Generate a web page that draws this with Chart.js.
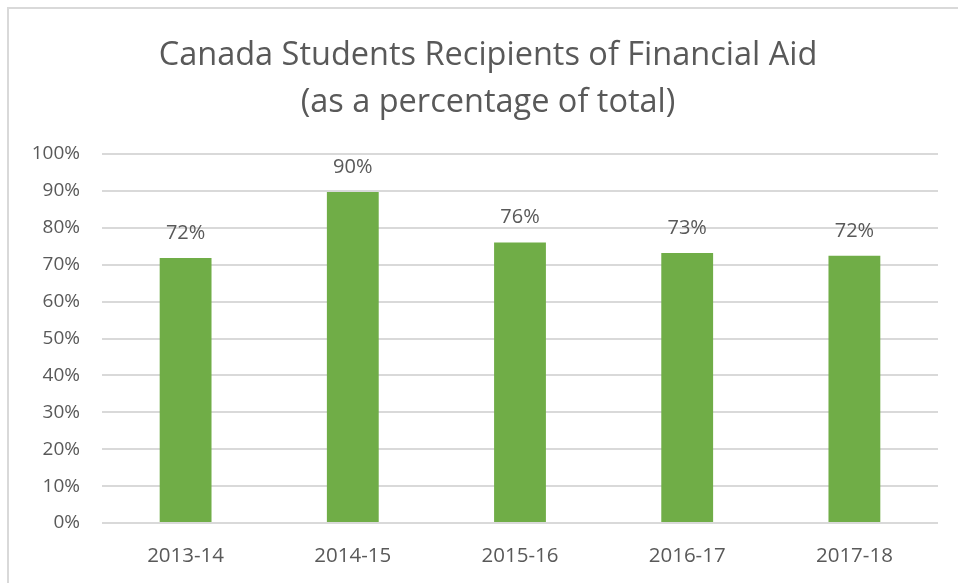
<!DOCTYPE html>
<html>
<head>
<meta charset="utf-8">
<script src="https://cdn.jsdelivr.net/npm/chart.js@4"></script>
<style>
  html, body { margin: 0; padding: 0; background: #fff; overflow: hidden; }
  #wrap { position: relative; width: 958px; height: 583px; }
  #frame { position: absolute; left: 7px; top: 7px; width: 1000px; height: 1000px; border: 2px solid #d9d9d9; }
  #myChart { position: absolute; left: 0; top: 0; }
</style>
</head>
<body>
<div id="wrap">
  <div id="frame"></div>
  <canvas id="myChart" width="958" height="583"></canvas>
</div>
<script>
let years = ["2013-14", "2014-15", "2015-16", "2016-17", "2017-18"];
let percents = [71.8, 89.7, 76.0, 73.2, 72.4];
let titleLines = ["Canada Students Recipients of Financial Aid", "(as a percentage of total)"];
let barColor = "#70AD47";
let textColor = "#595959";
let fontName = "'Open Sans', 'Noto Sans', sans-serif";

// the title sits centred on the outer frame, not on the canvas
const frameTitle = {
    id: "frameTitle",
    afterDraw(chart) {
        const ctx = chart.ctx;
        ctx.save();
        ctx.font = "32.5px " + fontName;
        ctx.fillStyle = textColor;
        ctx.textAlign = "center";
        ctx.textBaseline = "alphabetic";
        ctx.fillText(titleLines[0], 488, 65);
        ctx.fillText(titleLines[1], 488, 112);
        ctx.restore();
    }
};

// draw the value above every bar
const valueLabels = {
    id: "valueLabels",
    afterDatasetsDraw(chart) {
        const ctx = chart.ctx;
        const meta = chart.getDatasetMeta(0);
        ctx.save();
        ctx.font = "20px " + fontName;
        ctx.fillStyle = textColor;
        ctx.textAlign = "center";
        ctx.textBaseline = "middle";
        meta.data.forEach((bar, i) => {
            ctx.fillText(Math.round(percents[i]) + "%", bar.x, bar.y - 25);
        });
        ctx.restore();
    }
};

new Chart("myChart", {
    type: "bar",
    data: {
        labels: years,
        datasets: [{
            data: percents,
            backgroundColor: barColor,
            categoryPercentage: 1,
            barPercentage: 0.31
        }]
    },
    plugins: [valueLabels, frameTitle],
    options: {
        responsive: false,
        animation: false,
        layout: { padding: { left: 0, right: 20, top: 154, bottom: 0 } },
        plugins: {
            legend: { display: false },
            tooltip: { enabled: false },
            title: { display: false }
        },
        scales: {
            y: {
                min: 0,
                max: 100,
                ticks: {
                    stepSize: 10,
                    padding: 22,
                    color: textColor,
                    font: { family: fontName, size: 19 },
                    callback: v => v + "%"
                },
                grid: { color: "#d9d9d9", lineWidth: 2, drawTicks: false },
                border: { display: false },
                afterFit: s => { s.width = 102; }
            },
            x: {
                ticks: {
                    padding: 21,
                    color: textColor,
                    font: { family: fontName, size: 20.5 }
                },
                grid: { display: false, drawTicks: false },
                border: { display: false },
                afterFit: s => { s.height = 60; }
            }
        }
    }
});
</script>
</body>
</html>
